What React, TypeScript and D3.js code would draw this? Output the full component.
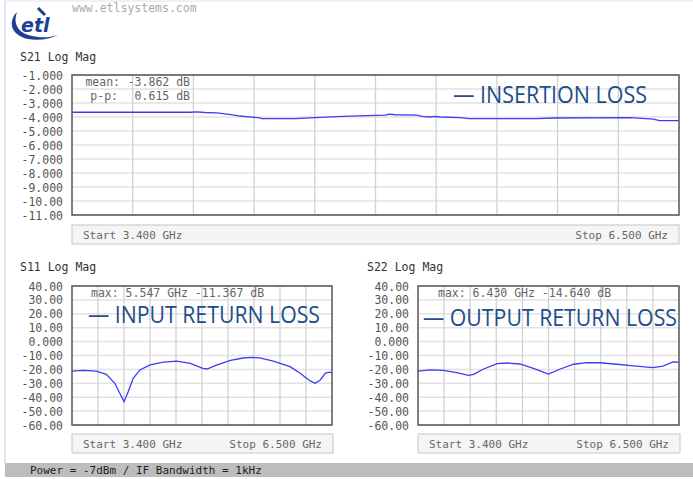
import * as d3 from "d3";
import React, { useEffect, useRef } from "react";

// S21 insertion loss trace
const s21Freq = [3.4, 4.0, 4.04, 4.08, 4.14, 4.22, 4.26, 4.3, 4.35, 4.37, 4.54, 4.64, 4.75, 4.86, 5.0, 5.02, 5.05, 5.16, 5.19, 5.23, 5.25, 5.28, 5.38, 5.43, 5.77, 5.86, 6.25, 6.37, 6.4, 6.5];
const s21Db = [-3.66, -3.66, -3.63, -3.68, -3.71, -3.85, -3.93, -3.99, -4.05, -4.12, -4.12, -4.05, -3.98, -3.92, -3.86, -3.79, -3.84, -3.86, -3.95, -4.0, -3.95, -4.0, -4.05, -4.12, -4.12, -4.07, -4.05, -4.15, -4.26, -4.26];

// S11 input return loss trace
const s11Freq = [3.4, 3.53, 3.69, 3.81, 3.91, 3.97, 4.02, 4.07, 4.13, 4.21, 4.33, 4.49, 4.65, 4.81, 4.96, 5.01, 5.13, 5.29, 5.44, 5.547, 5.64, 5.8, 6.0, 6.12, 6.24, 6.3, 6.36, 6.42, 6.45, 6.5];
const s11Db = [-21.2, -20.7, -21.2, -23.5, -30, -37.2, -43.2, -36, -26.4, -20.4, -16.8, -14.7, -14, -15.6, -19.2, -19.7, -16.8, -13.5, -11.8, -11.4, -11.7, -14, -18, -22.8, -28.3, -30, -27.6, -22.8, -22.1, -22.1];

// S22 output return loss trace
const s22Freq = [3.4, 3.54, 3.7, 3.86, 4.0, 4.06, 4.18, 4.34, 4.46, 4.61, 4.77, 4.95, 5.09, 5.25, 5.4, 5.56, 5.76, 5.96, 6.19, 6.31, 6.43, 6.5];
const s22Db = [-21.2, -20.4, -20.7, -22.3, -24.3, -23.5, -19.7, -15.9, -15.4, -16.1, -19.2, -23.3, -19.7, -16.3, -15.2, -15.2, -16.3, -17.5, -18.7, -17.7, -14.64, -14.8];

const topTicks = [-1, -2, -3, -4, -5, -6, -7, -8, -9, -10, -11];
const topTickLabels = ["-1.000", "-2.000", "-3.000", "-4.000", "-5.000", "-6.000", "-7.000", "-8.000", "-9.000", "-10.00", "-11.00"];
const rlTicks = [40, 30, 20, 10, 0, -10, -20, -30, -40, -50, -60];
const rlTickLabels = ["40.00", "30.00", "20.00", "10.00", "0.000", "-10.00", "-20.00", "-30.00", "-40.00", "-50.00", "-60.00"];

const freqStart = 3.4;
const freqStop = 6.5;
const startLabel = "Start 3.400 GHz";
const stopLabel = "Stop 6.500 GHz";

const mono = "DejaVu Sans Mono, monospace";
const traceColor = "#3c3cf5";
const legendColor = "#1d4e89";

function drawPanel(svg, opts) {
  const { x0, x1, y0, y1, ticks, labels, labelRight, title, freq, db, legend, legendX, legendY, legendW, legendSize, box } = opts;
  const g = svg.append("g");
  const x = d3.scaleLinear().domain([freqStart, freqStop]).range([x0, x1]);
  const y = d3.scaleLinear().domain([ticks[0], ticks[ticks.length - 1]]).range([y0, y1]);

  g.append("text")
    .attr("x", title.x)
    .attr("y", title.y)
    .attr("font-family", mono)
    .attr("font-size", 11.5)
    .attr("fill", "#333")
    .text(title.text);

  // horizontal grid
  g.selectAll(".hg")
    .data(ticks)
    .enter()
    .append("line")
    .attr("x1", x0)
    .attr("x2", x1)
    .attr("y1", (d) => y(d))
    .attr("y2", (d) => y(d))
    .attr("stroke", "#e2e2e2")
    .attr("stroke-width", 1.5);

  // vertical grid, 10 divisions
  const vt = d3.range(1, 10).map((i) => freqStart + (i * (freqStop - freqStart)) / 10);
  g.selectAll(".vg")
    .data(vt)
    .enter()
    .append("line")
    .attr("x1", (d) => x(d))
    .attr("x2", (d) => x(d))
    .attr("y1", y0)
    .attr("y2", y1)
    .attr("stroke", "#d2d2d2")
    .attr("stroke-width", 1.3);

  g.selectAll(".yl")
    .data(ticks)
    .enter()
    .append("text")
    .attr("x", labelRight)
    .attr("y", (d) => y(d) + 1)
    .attr("text-anchor", "end")
    .attr("dominant-baseline", "middle")
    .attr("font-family", mono)
    .attr("font-size", 11.5)
    .attr("fill", "#555")
    .text((d, i) => labels[i]);

  opts.stats.forEach((s) => {
    g.append("text")
      .attr("x", s.x)
      .attr("y", s.y)
      .attr("text-anchor", s.anchor || "start")
      .attr("font-family", mono)
      .attr("font-size", 11.5)
      .attr("fill", "#666")
      .attr("xml:space", "preserve")
      .text(s.text);
  });

  const line = d3
    .line()
    .x((d, i) => x(freq[i]))
    .y((d) => y(d));
  g.append("path")
    .datum(db)
    .attr("fill", "none")
    .attr("stroke", traceColor)
    .attr("stroke-width", 1.3)
    .attr("d", line);

  g.append("text")
    .attr("x", legendX)
    .attr("y", legendY)
    .attr("font-family", "Open Sans, sans-serif")
    .attr("font-size", legendSize)
    .attr("fill", legendColor)
    .attr("textLength", legendW)
    .attr("lengthAdjust", "spacingAndGlyphs")
    .text(legend);

  g.append("rect")
    .attr("x", x0)
    .attr("y", y0)
    .attr("width", x1 - x0)
    .attr("height", y1 - y0)
    .attr("fill", "none")
    .attr("stroke", "#555")
    .attr("stroke-width", 1.5);

  // start / stop box
  g.append("rect")
    .attr("x", box.x0)
    .attr("y", box.y0)
    .attr("width", box.x1 - box.x0)
    .attr("height", box.y1 - box.y0)
    .attr("fill", "#f5f5f5")
    .attr("stroke", "#c6c6c6");
  g.append("text")
    .attr("x", box.x0 + 11)
    .attr("y", (box.y0 + box.y1) / 2 + 1)
    .attr("dominant-baseline", "middle")
    .attr("font-family", mono)
    .attr("font-size", 11)
    .attr("fill", "#666")
    .text(startLabel);
  g.append("text")
    .attr("x", box.x1 - 11)
    .attr("y", (box.y0 + box.y1) / 2 + 1)
    .attr("text-anchor", "end")
    .attr("dominant-baseline", "middle")
    .attr("font-family", mono)
    .attr("font-size", 11)
    .attr("fill", "#666")
    .text(stopLabel);
}

const App = () => {
  const node = useRef(null);
  useEffect(() => {
    const svg = d3.select(node.current);
    svg.selectAll("*").remove();

    svg.append("rect").attr("width", 693).attr("height", 479).attr("fill", "#fff");
    // page frame
    svg.append("line").attr("x1", 5).attr("x2", 5).attr("y1", 0).attr("y2", 463).attr("stroke", "#dfe5ef").attr("stroke-width", 2);
    svg.append("line").attr("x1", 5).attr("x2", 693).attr("y1", 1).attr("y2", 1).attr("stroke", "#eef1f6").attr("stroke-width", 2);

    // logo
    const logo = svg.append("g").attr("fill", "#1c3f94");
    logo
      .append("path")
      .attr("d", "M17,12 C8,21 10,35 28,39 C39,41 50,39 58,35 C49,38 39,38 30,35.5 C17,32 13,23 17,12 Z");
    logo
      .append("line")
      .attr("x1", 38)
      .attr("y1", 8)
      .attr("x2", 45)
      .attr("y2", 15)
      .attr("stroke", "#1c3f94")
      .attr("stroke-width", 3);
    logo
      .append("text")
      .attr("x", 21)
      .attr("y", 32)
      .attr("font-family", "DejaVu Sans, sans-serif")
      .attr("font-weight", "bold")
      .attr("font-style", "italic")
      .attr("font-size", 19)
      .text("etl");

    svg
      .append("text")
      .attr("x", 72)
      .attr("y", 12)
      .attr("font-family", mono)
      .attr("font-size", 11.5)
      .attr("fill", "#aaa")
      .text("www.etlsystems.com");

    drawPanel(svg, {
      x0: 72, x1: 679, y0: 75, y1: 215,
      ticks: topTicks, labels: topTickLabels, labelRight: 63,
      title: { x: 20, y: 61, text: "S21 Log Mag" },
      freq: s21Freq, db: s21Db,
      legend: "— INSERTION LOSS", legendX: 453, legendY: 103, legendW: 194, legendSize: 24,
      stats: [
        { x: 120, y: 86, text: "mean:", anchor: "end" },
        { x: 190, y: 86, text: "-3.862 dB", anchor: "end" },
        { x: 118, y: 100, text: "p-p:", anchor: "end" },
        { x: 190, y: 100, text: "0.615 dB", anchor: "end" },
      ],
      box: { x0: 72, x1: 679, y0: 225, y1: 244 },
    });

    drawPanel(svg, {
      x0: 72, x1: 332, y0: 286, y1: 425,
      ticks: rlTicks, labels: rlTickLabels, labelRight: 63,
      title: { x: 20, y: 271, text: "S11 Log Mag" },
      freq: s11Freq, db: s11Db,
      legend: "— INPUT RETURN LOSS", legendX: 88, legendY: 323, legendW: 232, legendSize: 23,
      stats: [{ x: 91, y: 297, text: "max: 5.547 GHz -11.367 dB" }],
      box: { x0: 72, x1: 333, y0: 434, y1: 453 },
    });

    drawPanel(svg, {
      x0: 418, x1: 679, y0: 286, y1: 425,
      ticks: rlTicks, labels: rlTickLabels, labelRight: 409,
      title: { x: 367, y: 271, text: "S22 Log Mag" },
      freq: s22Freq, db: s22Db,
      legend: "— OUTPUT RETURN LOSS", legendX: 423, legendY: 326, legendW: 254, legendSize: 23,
      stats: [{ x: 438, y: 297, text: "max: 6.430 GHz -14.640 dB" }],
      box: { x0: 418, x1: 680, y0: 434, y1: 453 },
    });

    // footer bar
    svg.append("rect").attr("x", 5).attr("y", 463).attr("width", 688).attr("height", 14).attr("fill", "#bdbdbd");
    svg
      .append("text")
      .attr("x", 30)
      .attr("y", 471)
      .attr("dominant-baseline", "middle")
      .attr("font-family", mono)
      .attr("font-size", 11)
      .attr("fill", "#222")
      .text("Power = -7dBm / IF Bandwidth = 1kHz");
  }, []);

  return (
    <svg
      ref={node}
      width={693}
      height={479}
      style={{ position: "absolute", left: 0, top: 0, display: "block" }}
    />
  );
};

export default App;
